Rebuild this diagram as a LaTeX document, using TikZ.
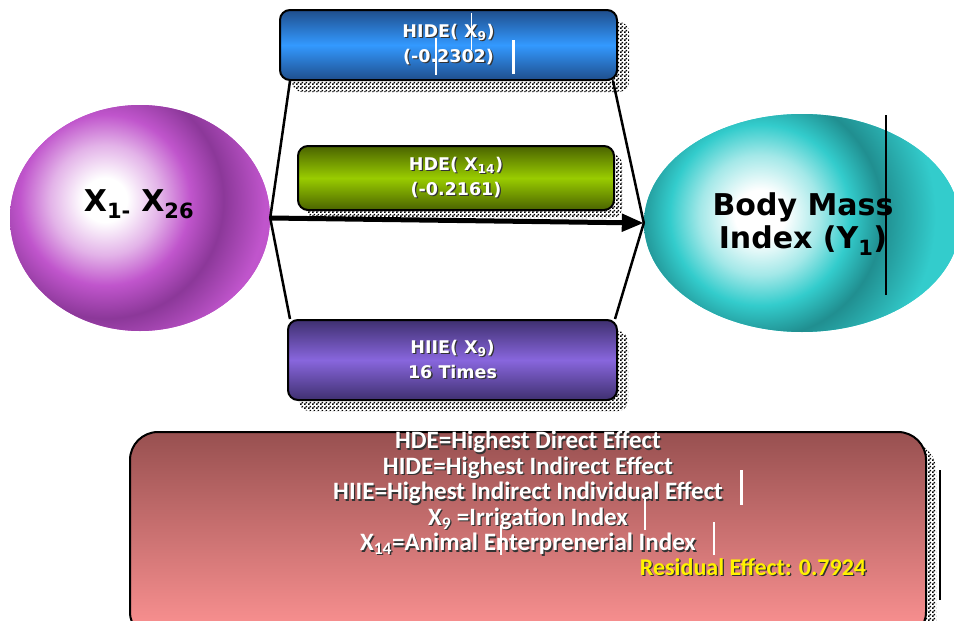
\documentclass[tikz,border=0pt]{standalone}
\usepackage{fontspec}
\setmainfont{Carlito}
\newfontfamily\dvs{DejaVu Sans}
\usetikzlibrary{shapes.geometric,arrows.meta,patterns,shadows}
\definecolor{lcol}{HTML}{C055CC}
\definecolor{ldark}{HTML}{7A2E88}
\definecolor{rcol}{HTML}{33CCCC}
\definecolor{rdark}{HTML}{1A7A7C}
\definecolor{bluetop}{HTML}{1F4E8C}
\definecolor{bluemid}{HTML}{3399FF}
\definecolor{greentop}{HTML}{4A6300}
\definecolor{greenmid}{HTML}{99CC00}
\definecolor{purtop}{HTML}{3F3070}
\definecolor{purmid}{HTML}{8866DD}
\definecolor{legtop}{HTML}{985050}
\definecolor{legbot}{HTML}{FF9494}
% radial shadings, used at natural size (1bp ~ 1px)
\pgfdeclareradialshading{purpleball}{\pgfpointorigin}{color(0bp)=(white); color(22bp)=(white); color(55bp)=(white!55!lcol); color(85bp)=(lcol); color(118bp)=(ldark!75!lcol); color(160bp)=(lcol); color(240bp)=(lcol)}
\pgfdeclareradialshading{tealball}{\pgfpointorigin}{color(0bp)=(white); color(25bp)=(white); color(60bp)=(white!55!rcol); color(90bp)=(rcol); color(122bp)=(rdark!75!rcol); color(175bp)=(rcol); color(260bp)=(rcol)}
\pgfdeclarepatternformonly{finecheck}{\pgfpointorigin}{\pgfqpoint{4pt}{4pt}}{\pgfqpoint{4pt}{4pt}}{%
  \pgfpathrectangle{\pgfpointorigin}{\pgfqpoint{2pt}{2pt}}%
  \pgfpathrectangle{\pgfqpoint{2pt}{2pt}}{\pgfqpoint{2pt}{2pt}}%
  \pgfusepath{fill}}
\newcommand\shd[1]{\leavevmode\rlap{\kern1.3pt\raisebox{-1.3pt}{\color{black!80}#1}}#1}
\tikzset{
  ball/.style={ellipse, inner sep=0pt},
  balltext/.style={font=\dvs\bfseries\fontsize{30}{33}\selectfont, align=center, text=black, inner sep=0pt},
  effbox/.style={rectangle, rounded corners=10pt, draw=black, line width=2pt, align=center,
     text=white, font=\dvs\bfseries\fontsize{17.5}{25}\selectfont, inner sep=0pt},
  cshadow/.style={general shadow={shadow xshift=#1, shadow yshift=-#1, pattern=finecheck, pattern color=black}},
  conn/.style={line width=2.5pt},
  artw/.style={white},
  artb/.style={black, line width=2pt},
}
\begin{document}
\begin{tikzpicture}[x=1pt,y=-1pt]
\useasboundingbox (0,0) rectangle (954,621);
% left ellipse
\node[ball, minimum width=260pt, minimum height=226pt, fill=lcol,
  path picture={\pgftext[at={\pgfpoint{-35pt}{18pt}}]{\pgfuseshading{purpleball}}}] (lell) at (140,218) {};
\node[balltext] (xvars) at (139,204) {X\textsubscript{1-} X\textsubscript{26}};
% right ellipse
\node[ball, minimum width=316pt, minimum height=218pt, fill=rcol,
  path picture={\pgftext[at={\pgfpoint{-42pt}{8pt}}]{\pgfuseshading{tealball}}}] (rell) at (802,223) {};
\node[balltext] (bmi) at (803,224) {Body Mass\\Index (Y\textsubscript{1})};
\draw[artb] (886,115) -- (886,295);
% boxes
\node[effbox, minimum width=337pt, minimum height=70pt, top color=bluetop, bottom color=bluetop, middle color=bluemid, cshadow=12pt]
  (hide) at (448.5,45) {\shd{HIDE( X\textsubscript{9})}\\\shd{(-0.2302)}};
\node[effbox, minimum width=316pt, minimum height=64pt, top color=greentop, bottom color=greentop, middle color=greenmid, cshadow=8pt]
  (hde) at (456,178) {\shd{HDE( X\textsubscript{14})}\\\shd{(-0.2161)}};
\node[effbox, minimum width=329pt, minimum height=80pt, top color=purtop, bottom color=purtop, middle color=purmid, cshadow=11pt]
  (hiie) at (452.5,360) {\shd{HIIE( X\textsubscript{9})}\\\shd{16 Times}};
\draw[artw, line width=1pt] (471,13) -- (471,50);
\draw[artw, line width=1.5pt] (436,38) -- (436,75);
\draw[artw, line width=3pt] (513,40) -- (513,74);
% connectors
\draw[conn] (lell.east) -- ([xshift=11pt]hide.south west);
\draw[conn] (lell.east) -- ([xshift=3pt]hiie.north west);
\draw[conn] ([xshift=-5pt]hide.south east) -- (rell.west);
\draw[conn] ([xshift=-3pt]hiie.north east) -- (rell.west);
\draw[line width=5pt, -{Triangle[length=22pt,width=17pt]}] (lell.east) -- (rell.west);
% legend
\node[rectangle, rounded corners=28pt, draw=black, line width=2pt, top color=legtop, bottom color=legbot,
  minimum width=796pt, minimum height=208pt, cshadow=10pt] (legbox) at (528,536) {};
\node[font=\bfseries\fontsize{25}{25.5}\selectfont, text=white, align=center, inner sep=0pt, anchor=north]
  (legtext) at (528,431) {\shd{HDE=Highest Direct Effect}\\\shd{HIDE=Highest Indirect Effect}\\
  \shd{HIIE=Highest Indirect Individual Effect}\\\shd{X\textsubscript{9} =Irrigation Index}\\
  \shd{X\textsubscript{14}=Animal Enterprenerial Index}};
\node[font=\bfseries\fontsize{24}{26}\selectfont, text=yellow, inner sep=0pt] (resid) at (753,568) {\shd{Residual Effect: 0.7924}};
\draw[artw, line width=3pt] (741,470) -- (741,505);
\draw[artw, line width=2pt] (645,497) -- (645,530);
\draw[artw, line width=1.5pt] (714,522) -- (714,555);
\draw[artw, line width=1.5pt] (501,525) -- (501,555);
\draw[artb] (940,470) -- (940,600);
\end{tikzpicture}
\end{document}
